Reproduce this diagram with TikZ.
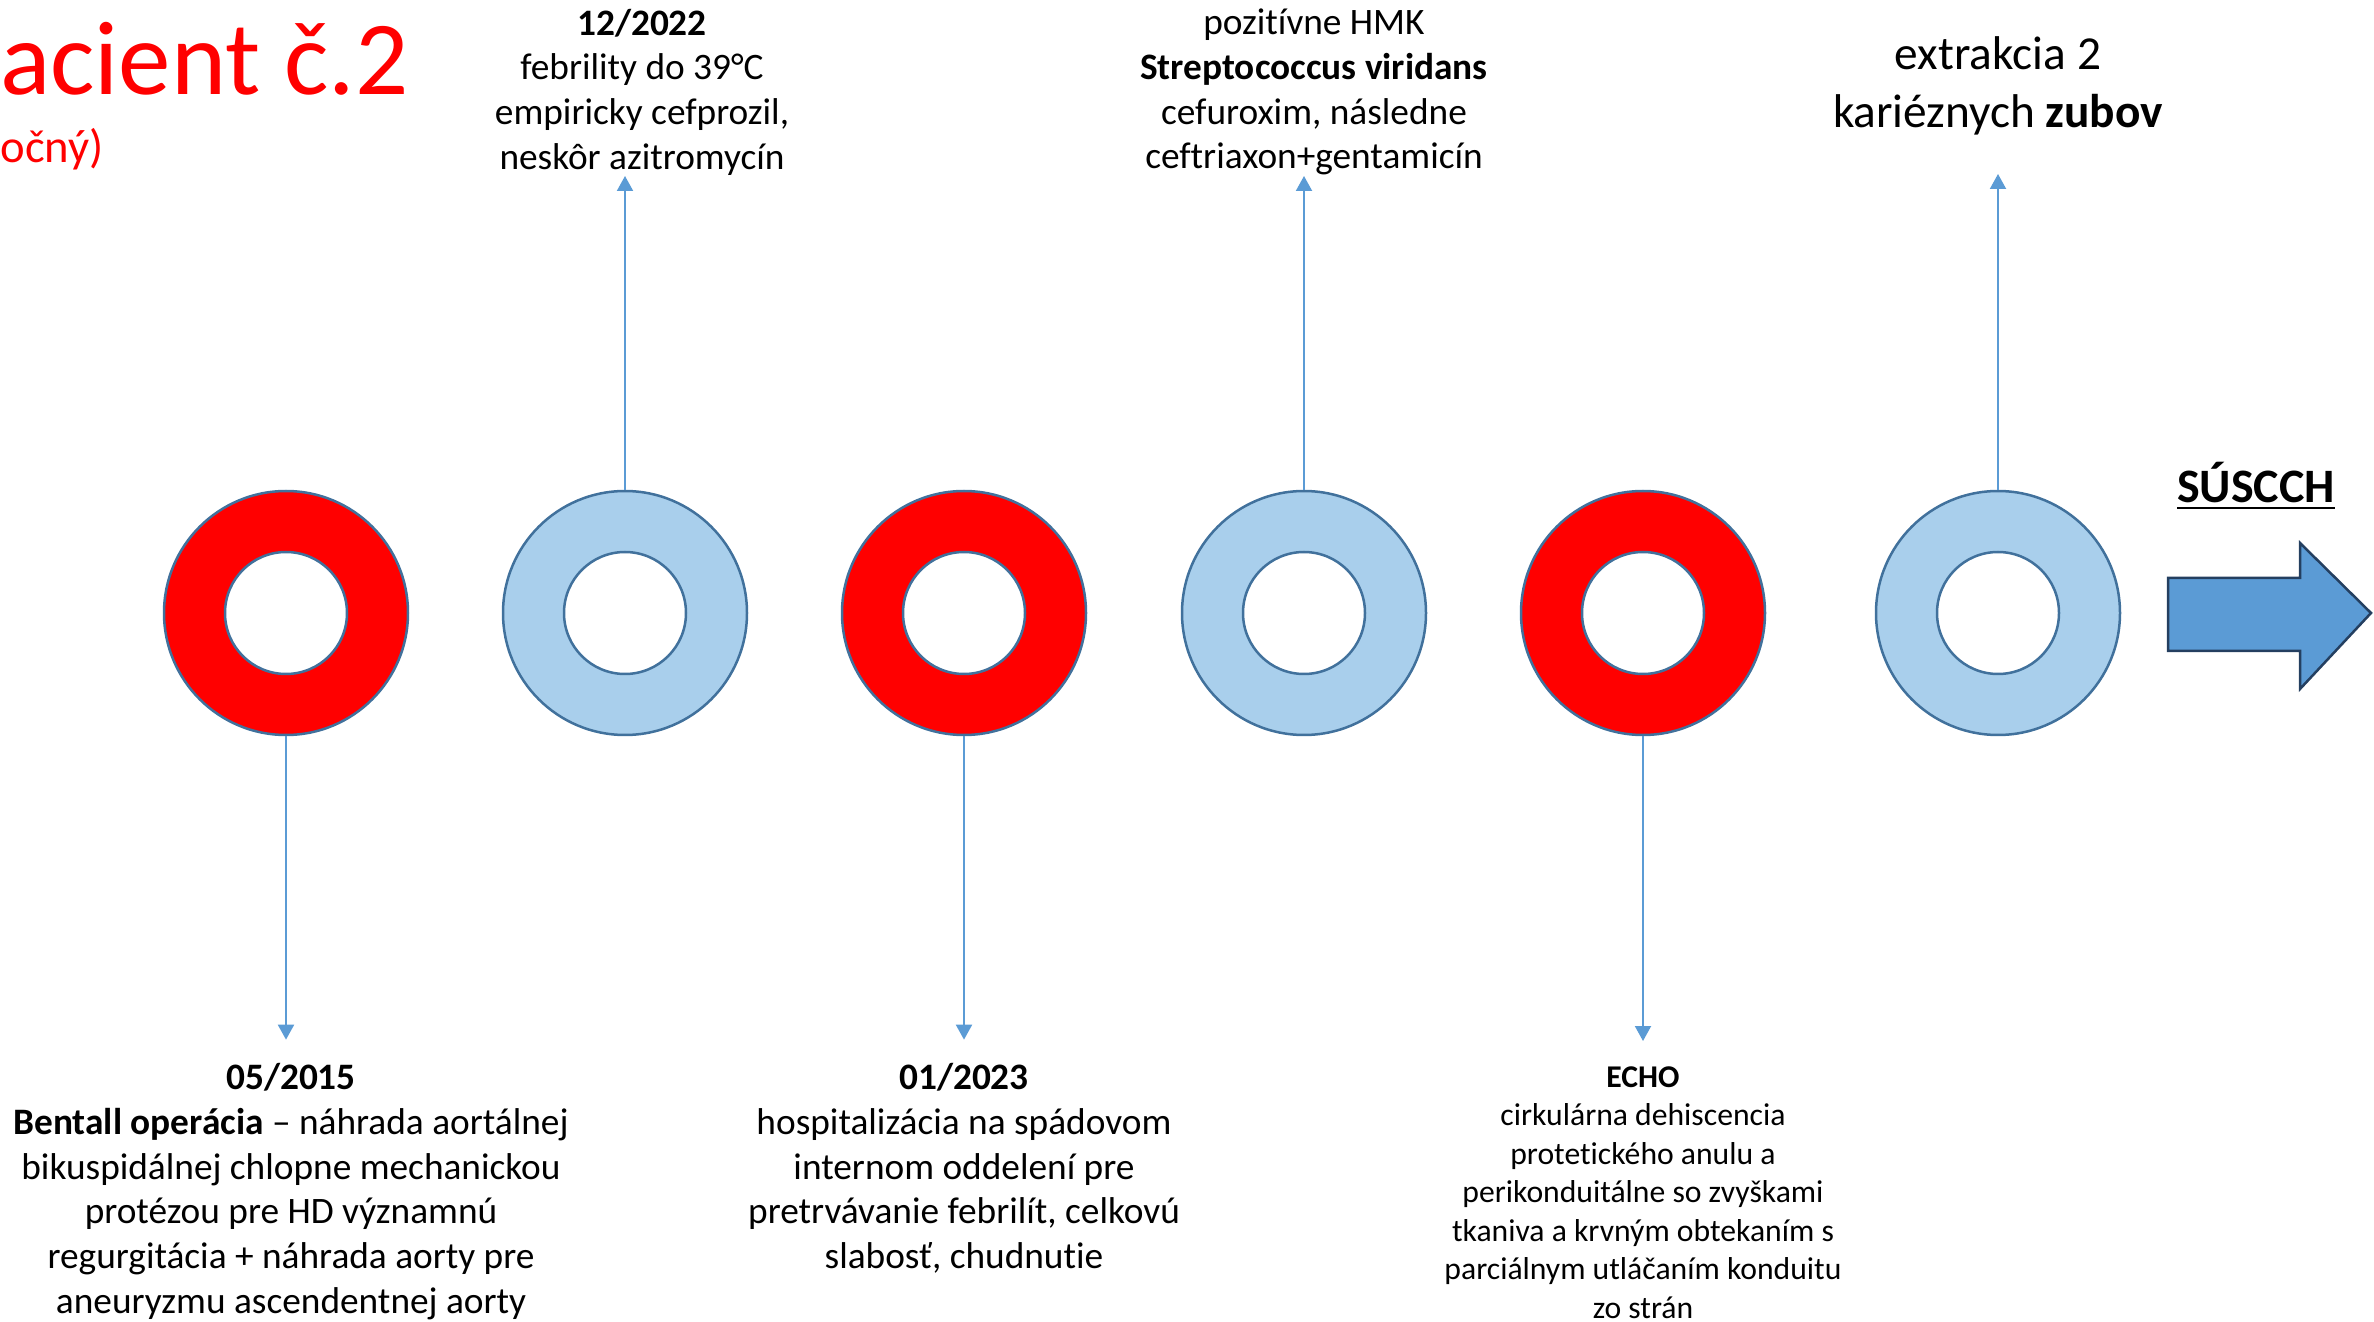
\documentclass[tikz,border=0pt]{standalone}
\usepackage{fontspec}
\setmainfont{Carlito}[Ligatures=CommonOff]
\usetikzlibrary{arrows.meta}
\definecolor{ringred}{HTML}{FF0000}
\definecolor{ringblue}{HTML}{A9CFEC}
\definecolor{ringline}{HTML}{41719C}
\definecolor{linkblue}{HTML}{5B9BD5}
\definecolor{arrowline}{HTML}{243F60}
\begin{document}
\begin{tikzpicture}[x=0.3pt,y=-0.3pt,
  ring/.style={circle,draw=ringline,line width=0.75pt,minimum size=73.2pt,inner sep=0pt},
  hole/.style={circle,draw=ringline,fill=white,line width=0.75pt,minimum size=36.6pt,inner sep=0pt},
  link/.style={draw=linkblue,line width=0.6pt,-{Triangle[width=4.8pt,length=4.5pt]}},
  note/.style={align=center,inner sep=0pt,font=\fontsize{11.2}{13.4}\selectfont},
  small note/.style={align=center,inner sep=0pt,font=\fontsize{9.5}{11.55}\selectfont},
  big note/.style={align=center,inner sep=0pt,font=\fontsize{14.2}{17.4}\selectfont}]
\useasboundingbox (0,0) rectangle (2374,1322);
% title
\node[anchor=base east,inner sep=0pt,text=ringred,font=\fontsize{31.5}{36}\selectfont] (title) at (409,95) {Pacient č.2};
\node[anchor=base west,inner sep=0pt,text=ringred,font=\fontsize{14}{17}\selectfont] (subtitle) at (0,163) {očný)};
% rings
\node[ring,fill=ringred] (r1) at (286,613) {};
\node[hole] (h1) at (r1) {};
\node[ring,fill=ringblue] (r2) at (625,613) {};
\node[hole] (h2) at (r2) {};
\node[ring,fill=ringred] (r3) at (964,613) {};
\node[hole] (h3) at (r3) {};
\node[ring,fill=ringblue] (r4) at (1304,613) {};
\node[hole] (h4) at (r4) {};
\node[ring,fill=ringred] (r5) at (1643,613) {};
\node[hole] (h5) at (r5) {};
\node[ring,fill=ringblue] (r6) at (1998,613) {};
\node[hole] (h6) at (r6) {};
% labels above
\node[note,anchor=south] (t2) at (642,176) {\textbf{12/2022}\\febrility do 39°C\\empiricky cefprozil,\\neskôr azitromycín};
\node[note,anchor=south] (t4) at (1314,176) {pozitívne HMK\\\textbf{Streptococcus viridans}\\cefuroxim, následne\\ceftriaxon+gentamicín};
\node[big note,anchor=south] (t6) at (1998,136) {extrakcia 2\\kariéznych \textbf{zubov}};
% labels below
\node[note,anchor=north] (b1) at (291,1063) {\textbf{05/2015}\\\textbf{Bentall operácia} – náhrada aortálnej\\bikuspidálnej chlopne mechanickou\\protézou pre HD významnú\\regurgitácia + náhrada aorty pre\\aneuryzmu ascendentnej aorty};
\node[note,anchor=north] (b3) at (964,1063) {\textbf{01/2023}\\hospitalizácia na spádovom\\internom oddelení pre\\pretrvávanie febrilít, celkovú\\slabosť, chudnutie};
\node[small note,anchor=north] (b5) at (1643,1066) {\textbf{ECHO}\\cirkulárna dehiscencia\\protetického anulu a\\perikonduitálne so zvyškami\\tkaniva a krvným obtekaním s\\parciálnym utláčaním konduitu\\zo strán};
% connectors
\draw[link] (r2.north) -- (r2.north |- t2.south);
\draw[link] (r4.north) -- (r4.north |- t4.south);
\draw[link,shorten >=11.4pt] (r6.north) -- (r6.north |- t6.south);
\draw[link,shorten >=7pt] (r1.south) -- (r1.south |- b1.north);
\draw[link,shorten >=7pt] (r3.south) -- (r3.south |- b3.north);
\draw[link,shorten >=7.5pt] (r5.south) -- (r5.south |- b5.north);
% destination
\node[anchor=base,inner sep=0pt,font=\bfseries\fontsize{14.4}{17}\selectfont] (dest) at (2256,503) {\underline{SÚSCCH}};
\draw[fill=linkblue,draw=arrowline,line width=0.75pt] (2168,578) -- (2300,578) -- (2300,543) -- (2371,613) -- (2300,689) -- (2300,651) -- (2168,651) -- cycle;
\end{tikzpicture}
\end{document}
